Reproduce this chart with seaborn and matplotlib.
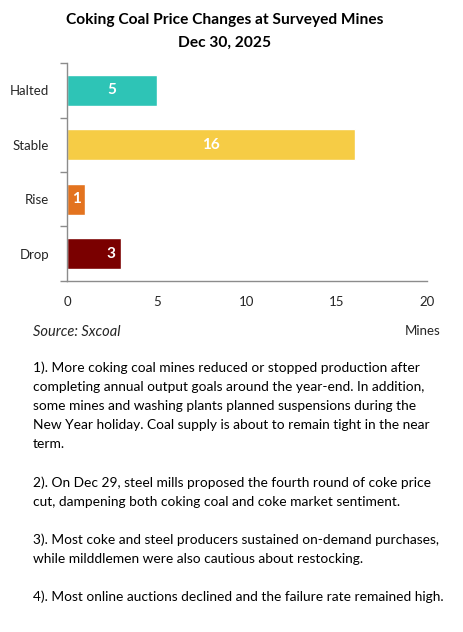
import matplotlib
matplotlib.use("Agg")
import matplotlib.pyplot as plt
import seaborn as sns
import pandas as pd

# chart data
categories = ["Halted", "Stable", "Rise", "Drop"]
mines = [5, 16, 1, 3]
bar_colors = ["#2EC4B6", "#F6CC45", "#E3731F", "#7A0000"]

title_lines = ["Coking Coal Price Changes at Surveyed Mines", "Dec 30, 2025"]
x_ticks = [0, 5, 10, 15, 20]

notes = [
    "1). More coking coal mines reduced or stopped production after",
    "completing annual output goals around the year-end. In addition,",
    "some mines and washing plants planned suspensions during the",
    "New Year holiday. Coal supply is about to remain tight in the near",
    "term.",
    "",
    "2). On Dec 29, steel mills proposed the fourth round of coke price",
    "cut, dampening both coking coal and coke market sentiment.",
    "",
    "3). Most coke and steel producers sustained on-demand purchases,",
    "while milddlemen were also cautious about restocking.",
    "",
    "4). Most online auctions declined and the failure rate remained high.",
]

sns.set_theme(style="white")
plt.rcParams["font.family"] = ["Lato", "DejaVu Sans"]

W, H = 463, 632
fig = plt.figure(figsize=(W / 100, H / 100), dpi=100)
fig.patch.set_facecolor("white")

def fx(px):
    return px / W

def fy(px):
    return 1 - px / H

ax = fig.add_axes([fx(67), fy(281), fx(427) - fx(67), fy(63) - fy(281)])

df = pd.DataFrame({"category": categories, "mines": mines})
sns.barplot(data=df, x="mines", y="category", hue="category",
            palette=bar_colors, width=0.57, saturation=1, legend=False, ax=ax)

# value labels
for i, v in enumerate(mines):
    if categories[i] == "Drop":
        ax.annotate(str(v), xy=(v, i), xytext=(-4, 0), textcoords="offset points",
                    ha="right", va="center", color="white", fontsize=11,
                    fontweight="bold")
    else:
        ax.text(v / 2, i, str(v), ha="center", va="center", color="white",
                fontsize=11, fontweight="bold")

ax.set_xlim(0, 20)
ax.set_ylim(len(categories) - 0.5, -0.5)
ax.set_xticks(x_ticks)
ax.set_xticklabels([str(t) for t in x_ticks])
ax.set_xlabel("")
ax.set_ylabel("")

# y ticks at category boundaries, labels at centers
ax.set_yticks([i - 0.5 for i in range(len(categories) + 1)])
ax.set_yticklabels([])
ax.set_yticks(range(len(categories)), minor=True)
ax.set_yticklabels(categories, minor=True)

for s in ["top", "right"]:
    ax.spines[s].set_visible(False)
for s in ["left", "bottom"]:
    ax.spines[s].set_color("#8C8C8C")
    ax.spines[s].set_linewidth(1)

ax.tick_params(axis="x", which="major", direction="out", length=5, width=1,
               color="#8C8C8C", labelsize=9.5, labelcolor="#262626", pad=6)
ax.tick_params(axis="y", which="major", direction="out", length=5, width=1,
               color="#8C8C8C", left=True)
ax.tick_params(axis="y", which="minor", length=0, labelsize=9.5,
               labelcolor="#262626", pad=13)
ax.grid(False)

# titles
fig.text(fx(225), fy(20), title_lines[0], ha="center", va="center",
         fontsize=11.2, fontweight="bold", color="black")
fig.text(fx(225), fy(43), title_lines[1], ha="center", va="center",
         fontsize=11.2, fontweight="bold", color="black")

fig.text(fx(33), fy(332), "Source: Sxcoal", ha="left", va="center",
         fontsize=10.5, style="italic", color="#262626")
fig.text(fx(440), fy(331), "Mines", ha="right", va="center",
         fontsize=9.5, color="#262626")

# commentary lines
for k, line in enumerate(notes):
    if line:
        fig.text(fx(33), fy(368 + 19.1 * k), line, ha="left", va="center",
                 fontsize=9.9, color="black")

fig.savefig("out.png", dpi=100, facecolor="white")
